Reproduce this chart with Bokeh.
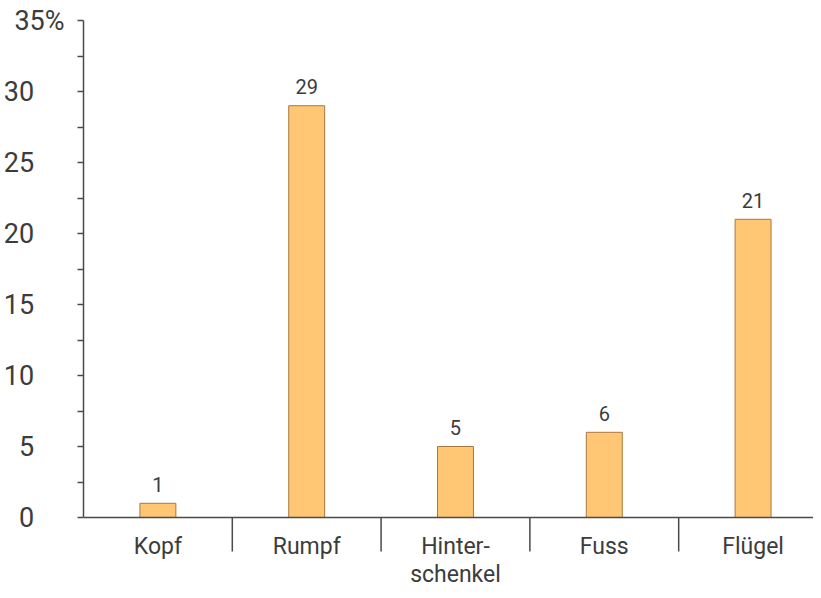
from bokeh.plotting import figure
from bokeh.models import Range1d, FixedTicker, ColumnDataSource, Span
from bokeh.core.properties import value
from bokeh.embed import file_html
from bokeh.resources import INLINE

categories = ["Kopf", "Rumpf", "Hinter-\nschenkel", "Fuss", "Flügel"]
percent = [1, 29, 5, 6, 21]
y_ticks = [0, 5, 10, 15, 20, 25, 30, 35]
y_labels = ["0", "5", "10", "15", "20", "25", "30", "35%"]

FONT = "Roboto"
TEXT = "#3c3c3c"
AXIS = "#4a4a4a"

W, H = 813, 590
TOP, LEFT = 20, 82
PX_PER_UNIT = 497 / 35.0
CAT_PX = 149.0
y_low = -(H - TOP - 35 * PX_PER_UNIT) / PX_PER_UNIT
x_high = (W - LEFT) / CAT_PX

xs = [i + 0.5 for i in range(len(categories))]
src = ColumnDataSource(dict(x=xs, top=percent, lab=[str(v) for v in percent]))
cat_src = ColumnDataSource(dict(x=xs, y=[0] * len(xs), lab=categories))
sep_x = list(range(1, len(categories)))
sep_src = ColumnDataSource(dict(x=sep_x, y0=[0] * len(sep_x)))

p = figure(width=W, height=H, output_backend="svg", toolbar_location=None,
           x_range=Range1d(0, x_high), y_range=Range1d(y_low, 35),
           min_border_left=LEFT, min_border_right=0, min_border_top=TOP, min_border_bottom=0)
p.outline_line_color = None
p.xgrid.visible = False
p.ygrid.visible = False
p.xaxis.visible = False
p.background_fill_color = "white"

p.vbar(x="x", top="top", width=36 / CAT_PX, bottom=0, source=src,
       fill_color="#FFC773", line_color="#A8783C", line_width=1)
p.text(x="x", y="top", text="lab", source=src, y_offset=-19,
       text_align="center", text_baseline="alphabetic",
       text_font=value(FONT), text_font_size="20px", text_color=TEXT)

# x axis line and category separators
p.add_layout(Span(location=0, dimension="width", line_color=AXIS, line_width=1.5))
p.segment(x0="x", y0="y0", x1="x", y1=-34 / PX_PER_UNIT, source=sep_src,
          line_color=AXIS, line_width=1.5)
p.text(x="x", y="y", text="lab", source=cat_src, y_offset=15,
       text_align="center", text_baseline="top", text_line_height=1.05,
       text_font=value(FONT), text_font_size="23px", text_color=TEXT)

# y axis
ya = p.yaxis[0]
ya.bounds = (0, 35)
ya.ticker = FixedTicker(ticks=y_ticks, minor_ticks=[t + 2.5 for t in y_ticks[:-1]])
pad = "\u2007\u2007"
ya.major_label_overrides = {t: (l if l.endswith("%") else l + pad) for t, l in zip(y_ticks, y_labels)}
ya.major_tick_out = 6
ya.major_tick_in = 0
ya.minor_tick_out = 6
ya.minor_tick_in = 0
ya.major_label_standoff = 13
ya.axis_line_color = AXIS
ya.major_tick_line_color = AXIS
ya.minor_tick_line_color = AXIS
ya.axis_line_width = 1.5
ya.major_tick_line_width = 1.5
ya.minor_tick_line_width = 1.5
ya.major_label_text_font = FONT
ya.major_label_text_font_size = "27px"
ya.major_label_text_color = TEXT

open("out.html", "w").write(file_html(p, INLINE))
